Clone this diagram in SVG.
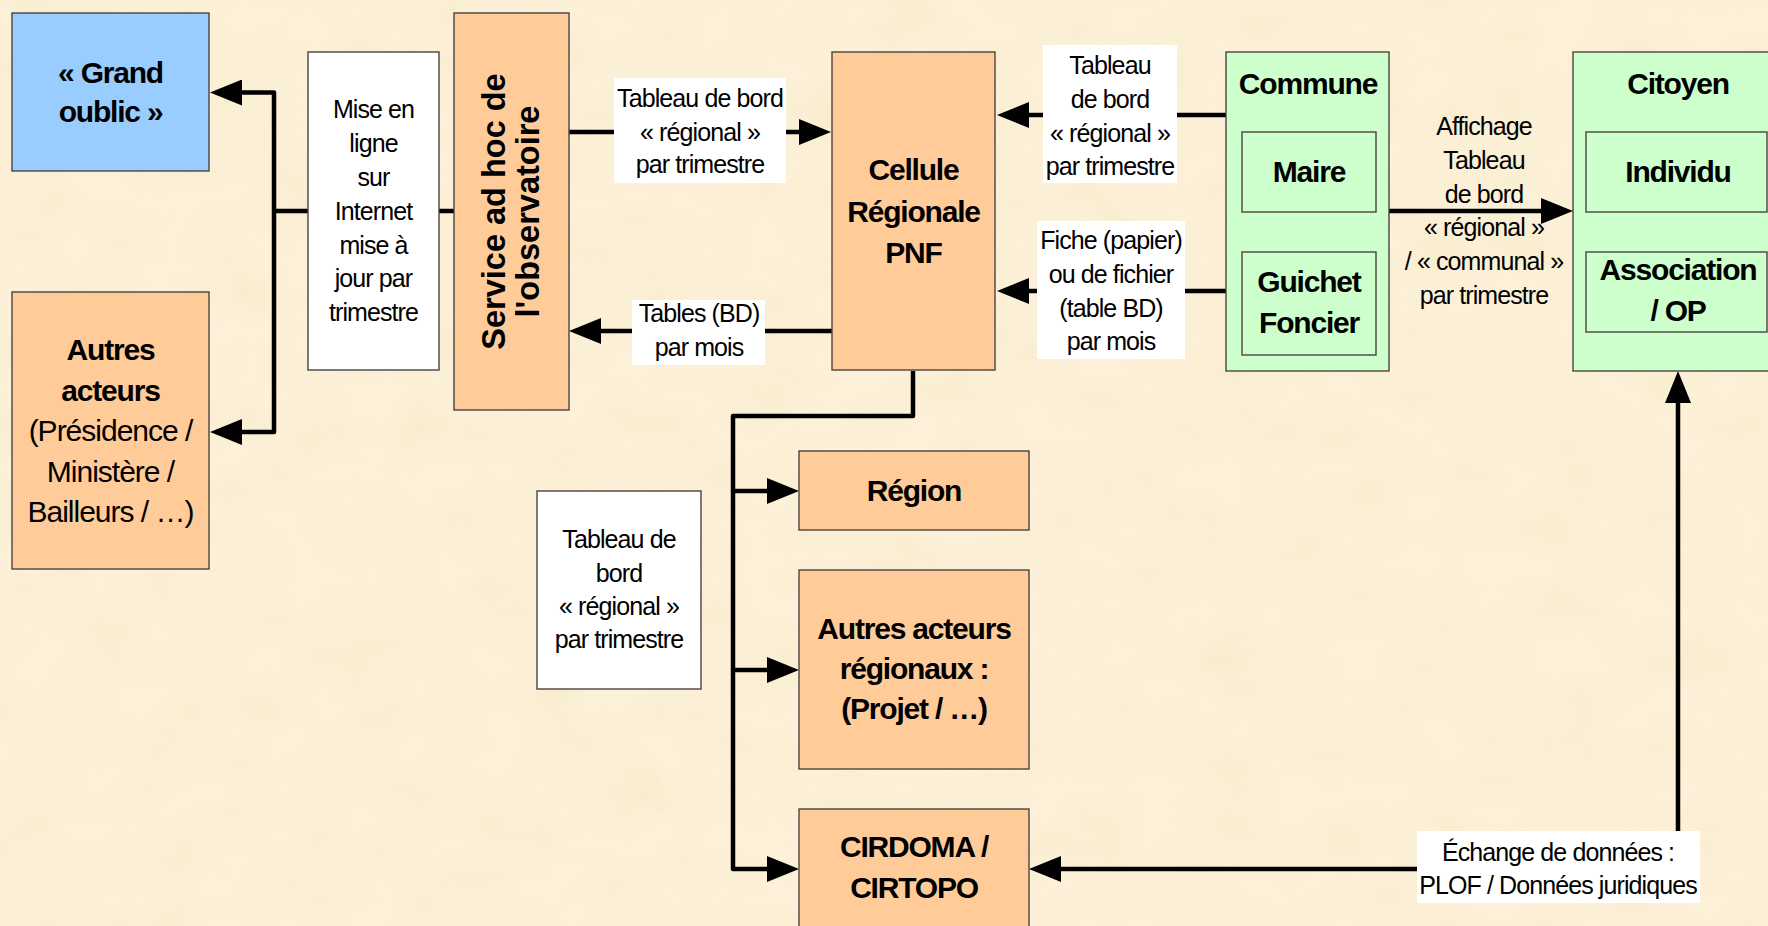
<svg xmlns="http://www.w3.org/2000/svg" width="1768" height="926" viewBox="0 0 1768 926">
  <style>
    .box { stroke: #4a4440; stroke-width: 1.4; }
    .org { fill: #FFCC99; }
    .blu { fill: #99CCFF; }
    .grn { fill: #CCFFCC; }
    .wht { fill: #FFFFFF; }
    .lbl { fill: #FFFFFF; stroke: none; }
    .b { font-family: "Liberation Sans", Arial, sans-serif; font-weight: bold; font-size: 30px; letter-spacing: -1.2px; text-anchor: middle; fill: #000; }
    .r { font-family: "Liberation Sans", Arial, sans-serif; font-size: 30px; letter-spacing: -1px; text-anchor: middle; fill: #000; }
    .t { font-family: "Liberation Sans", Arial, sans-serif; font-size: 25px; letter-spacing: -0.9px; text-anchor: middle; fill: #000; }
    .vt { font-family: "Liberation Sans", Arial, sans-serif; font-weight: bold; font-size: 32.5px; text-anchor: middle; fill: #000; }
    .ln { fill: none; stroke: #000; stroke-width: 4.5; stroke-linejoin: round; }
  </style>
  <defs>
    <marker id="ah" markerUnits="userSpaceOnUse" viewBox="0 0 32 26" refX="0" refY="13" markerWidth="32" markerHeight="26" orient="auto-start-reverse">
      <path d="M0,0 L32,13 L0,26 Z" fill="#000"/>
    </marker>
    <filter id="paper" x="0" y="0" width="100%" height="100%">
      <feTurbulence type="fractalNoise" baseFrequency="0.015 0.022" numOctaves="4" seed="7"/>
      <feColorMatrix type="matrix" values="0 0 0 0 0.91  0 0 0 0 0.80  0 0 0 0 0.56  0 0 0 1.6 -0.62"/>
    </filter>
  </defs>

  <!-- parchment background -->
  <rect x="0" y="0" width="1768" height="926" fill="#FCF1D8"/>
  <rect x="0" y="0" width="1768" height="926" filter="url(#paper)" opacity="0.55"/>

  <!-- connectors -->
  <g id="connectors">
    <path class="ln" d="M454,211 H274"/>
    <path class="ln" d="M242,92.5 H274 V432 H242" marker-start="url(#ah)" marker-end="url(#ah)"/>
    <path class="ln" d="M569,132 H799" marker-end="url(#ah)"/>
    <path class="ln" d="M832,331 H601" marker-end="url(#ah)"/>
    <path class="ln" d="M1226,115 H1029" marker-end="url(#ah)"/>
    <path class="ln" d="M1226,291 H1029" marker-end="url(#ah)"/>
    <path class="ln" d="M1389,211 H1541" marker-end="url(#ah)"/>
    <path class="ln" d="M913,371 V416 H733 V869 H767" marker-end="url(#ah)"/>
    <path class="ln" d="M733,491 H767" marker-end="url(#ah)"/>
    <path class="ln" d="M733,670 H767" marker-end="url(#ah)"/>
    <path class="ln" d="M1678,403 V869 H1061" marker-start="url(#ah)" marker-end="url(#ah)"/>

    <!-- connector labels -->
    <g id="lbl-mise-en-ligne">
      <rect class="box wht" x="308" y="52" width="131" height="318"/>
      <text class="t" x="373.5" y="117.5">Mise en</text>
      <text class="t" x="373.5" y="151.5">ligne</text>
      <text class="t" x="373.5" y="185.5">sur</text>
      <text class="t" x="373.5" y="219.5">Internet</text>
      <text class="t" x="373.5" y="253.5">mise à</text>
      <text class="t" x="373.5" y="287">jour par</text>
      <text class="t" x="373.5" y="320.5">trimestre</text>
    </g>
    <g id="lbl-tb-service">
      <rect class="lbl" x="614" y="78" width="172" height="105"/>
      <text class="t" x="700" y="106.5">Tableau de bord</text>
      <text class="t" x="700" y="140.5">« régional »</text>
      <text class="t" x="700" y="173">par trimestre</text>
    </g>
    <g id="lbl-tables">
      <rect class="lbl" x="632" y="300" width="133" height="65"/>
      <text class="t" x="699" y="322">Tables (BD)</text>
      <text class="t" x="699" y="355.5">par mois</text>
    </g>
    <g id="lbl-tb-commune">
      <rect class="lbl" x="1043" y="45" width="134" height="138"/>
      <text class="t" x="1110" y="74">Tableau</text>
      <text class="t" x="1110" y="107.5">de bord</text>
      <text class="t" x="1110" y="141.5">« régional »</text>
      <text class="t" x="1110" y="174.5">par trimestre</text>
    </g>
    <g id="lbl-fiche">
      <rect class="lbl" x="1037" y="221" width="148" height="138"/>
      <text class="t" x="1111" y="248.5">Fiche (papier)</text>
      <text class="t" x="1111" y="282.5">ou de fichier</text>
      <text class="t" x="1111" y="316.5">(table BD)</text>
      <text class="t" x="1111" y="350">par mois</text>
    </g>
    <g id="lbl-affichage">
      <text class="t" x="1484" y="135">Affichage</text>
      <text class="t" x="1484" y="169">Tableau</text>
      <text class="t" x="1484" y="202.5">de bord</text>
      <text class="t" x="1484" y="236">« régional »</text>
      <text class="t" x="1484" y="270">/ « communal »</text>
      <text class="t" x="1484" y="303.5">par trimestre</text>
    </g>
    <g id="lbl-echange">
      <rect class="lbl" x="1417" y="831" width="283" height="72"/>
      <text class="t" x="1558" y="861">Échange de données :</text>
      <text class="t" x="1558" y="894">PLOF / Données juridiques</text>
    </g>
    <g id="lbl-tb-regional">
      <rect class="box wht" x="537" y="491" width="164" height="198"/>
      <text class="t" x="619" y="548">Tableau de</text>
      <text class="t" x="619" y="581.5">bord</text>
      <text class="t" x="619" y="615">« régional »</text>
      <text class="t" x="619" y="648">par trimestre</text>
    </g>
  </g>

  <!-- nodes -->
  <g id="grand-public">
    <rect class="box blu" x="12" y="13" width="197" height="158"/>
    <text class="b" x="110.5" y="83">« Grand</text>
    <text class="b" x="110.5" y="122">oublic »</text>
  </g>

  <g id="autres-acteurs">
    <rect class="box org" x="12" y="292" width="197" height="277"/>
    <text class="b" x="110.5" y="360">Autres</text>
    <text class="b" x="110.5" y="401">acteurs</text>
    <text class="r" x="110.5" y="441">(Présidence /</text>
    <text class="r" x="110.5" y="482">Ministère /</text>
    <text class="r" x="110.5" y="522">Bailleurs / …)</text>
  </g>

  <g id="service-observatoire">
    <rect class="box org" x="454" y="13" width="115" height="397"/>
    <text class="vt" transform="translate(505,211.5) rotate(-90)">Service ad hoc de</text>
    <text class="vt" transform="translate(539,211.5) rotate(-90)">l'observatoire</text>
  </g>

  <g id="cellule-regionale">
    <rect class="box org" x="832" y="52" width="163" height="318"/>
    <text class="b" x="913.5" y="180">Cellule</text>
    <text class="b" x="913.5" y="222">Régionale</text>
    <text class="b" x="913.5" y="263">PNF</text>
  </g>

  <g id="commune">
    <rect class="box grn" x="1226" y="52" width="163" height="319"/>
    <text class="b" x="1308" y="94">Commune</text>
    <g id="maire">
      <rect class="box grn" x="1242" y="132" width="134" height="80"/>
      <text class="b" x="1309" y="182">Maire</text>
    </g>
    <g id="guichet-foncier">
      <rect class="box grn" x="1242" y="252" width="134" height="103"/>
      <text class="b" x="1309" y="292">Guichet</text>
      <text class="b" x="1309" y="333">Foncier</text>
    </g>
  </g>

  <g id="citoyen">
    <rect class="box grn" x="1573" y="52" width="220" height="319"/>
    <text class="b" x="1678" y="94">Citoyen</text>
    <g id="individu">
      <rect class="box grn" x="1586" y="132" width="181" height="80"/>
      <text class="b" x="1678" y="182">Individu</text>
    </g>
    <g id="association">
      <rect class="box grn" x="1586" y="252" width="181" height="80"/>
      <text class="b" x="1678" y="280">Association</text>
      <text class="b" x="1678" y="321">/ OP</text>
    </g>
  </g>

  <g id="region">
    <rect class="box org" x="799" y="451" width="230" height="79"/>
    <text class="b" x="914" y="501">Région</text>
  </g>

  <g id="autres-acteurs-regionaux">
    <rect class="box org" x="799" y="570" width="230" height="199"/>
    <text class="b" x="914" y="639">Autres acteurs</text>
    <text class="b" x="914" y="679">régionaux :</text>
    <text class="b" x="914" y="719">(Projet / …)</text>
  </g>

  <g id="cirdoma-cirtopo">
    <rect class="box org" x="799" y="809" width="230" height="140"/>
    <text class="b" x="914" y="857">CIRDOMA /</text>
    <text class="b" x="914" y="898">CIRTOPO</text>
  </g>
</svg>
